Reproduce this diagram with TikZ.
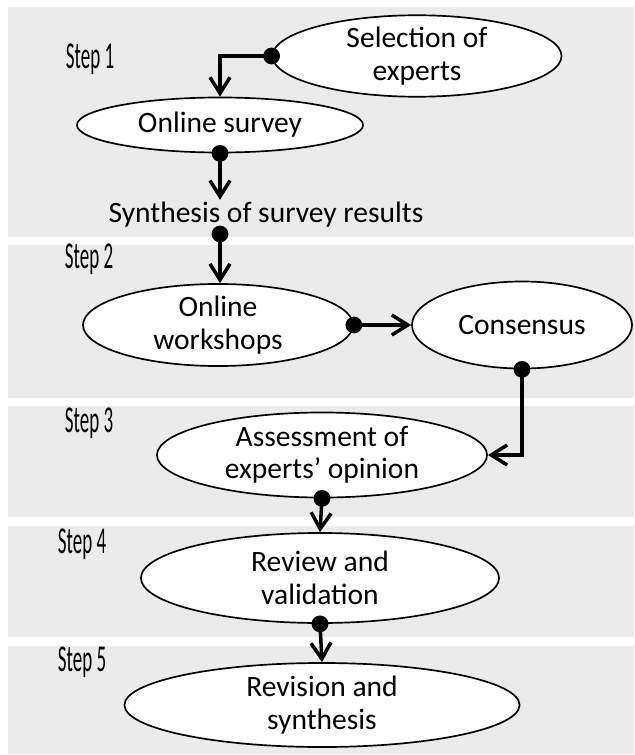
\documentclass[tikz,border=0pt]{standalone}
\usepackage{fontspec}
\setmainfont{Carlito}
\newfontfamily\stepfont[FakeStretch=0.5]{Carlito}
\usetikzlibrary{positioning,arrows.meta,shapes.geometric}
\definecolor{bandgray}{RGB}{235,235,235}
\tikzset{
  band/.style={fill=bandgray},
  stage/.style={ellipse,draw=black,fill=white,line width=1.2pt,inner sep=0pt,
    align=center,font=\fontsize{21}{23}\selectfont},
  flow/.style={-{Straight Barb[length=4mm,width=5mm]},line width=2.5pt},
  pt/.style={circle,fill=black,inner sep=0pt,minimum size=4.2mm},
  steplbl/.style={anchor=base west,font=\stepfont\fontsize{27}{30}\selectfont},
  plaintxt/.style={inner sep=1pt,font=\fontsize{21}{23}\selectfont},
}

\begin{document}
\begin{tikzpicture}[x=0.025cm,y=-0.025cm]
  \useasboundingbox (0,0) rectangle (634,755);
  % grey step bands
  \foreach \ya/\yb in {7/237,245/398,406/517,526/637,646/754}
    \fill[band] (8,\ya) rectangle (634,\yb);
  \foreach \n/\xa/\yb in {1/61/69,2/60/268,3/60/432,4/53/553,5/53/671}
    \node[steplbl] (step\n) at (\xa,\yb) {Step \n};
  % stages
  \node[stage,minimum width=7.225cm,minimum height=1.9cm] (sel) at (417,56) {Selection of\\experts};
  \node[stage,minimum width=7.15cm,minimum height=1.375cm] (survey) at (220,125) {Online survey};
  \node[plaintxt,anchor=base] (synth) at (266,222) {Synthesis of survey results};
  \node[stage,minimum width=6.75cm,minimum height=2.05cm] (workshop) at (218,325) {Online\\workshops};
  \node[stage,minimum width=5.5cm,minimum height=2.175cm] (consensus) at (522,325) {Consensus};
  \node[stage,minimum width=8.25cm,minimum height=2.125cm] (assess) at (322,455) {Assessment of\\experts’ opinion};
  \node[stage,minimum width=8.95cm,minimum height=2.25cm] (review) at (320,578) {Review and\\validation};
  \node[stage,minimum width=9.875cm,minimum height=2.1cm] (revision) at (322,705) {Revision and\\synthesis};
  % connector dots
  \node[pt] (d1) at (sel.west) {};
  \node[pt] (d2) at (survey.south) {};
  \node[pt] (d3) at (220,234) {};
  \node[pt] (d4) at (workshop.east) {};
  \node[pt] (d5) at (consensus.south) {};
  \node[pt] (d6) at (assess.south) {};
  \node[pt] (d7) at (review.south) {};
  % connectors
  \draw[flow] (d1.center) -| (survey.north);
  \draw[flow] (d2.center) -- (d2.center |- synth.north);
  \draw[flow] (d3.center) -- (d3.center |- workshop.north);
  \draw[flow] (d4.center) -- (consensus.west);
  \draw[flow] (d5.center) |- (assess.east);
  \draw[flow] (d6.center) -- (review.north);
  \draw[flow] (d7.center) -- (revision.north);
\end{tikzpicture}
\end{document}
